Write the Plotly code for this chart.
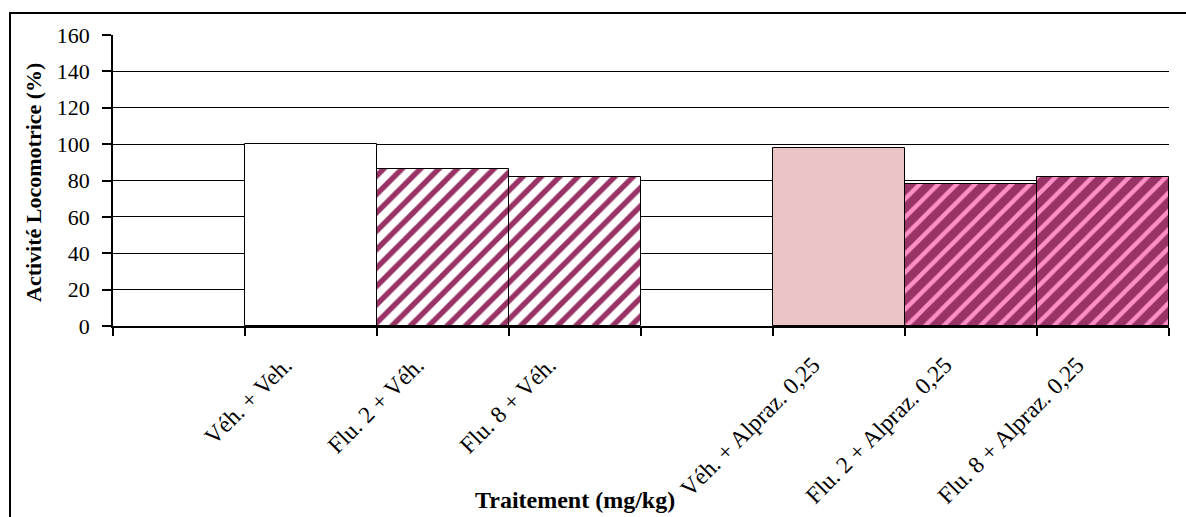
import plotly.graph_objects as go

# ---- data ----
cat_ids = ["blank_a", "c1", "c2", "c3", "blank_b", "c4", "c5", "c6"]
tick_labels = ["", "Véh. + Veh.", "Flu. 2 + Véh.", "Flu. 8 + Véh.", "",
               "Véh. + Alpraz. 0,25", "Flu. 2 + Alpraz. 0,25", "Flu. 8 + Alpraz. 0,25"]
values = [None, 100, 86.1, 82.1, None, 97.7, 77.9, 82.1]
y_ticks = [0, 20, 40, 60, 80, 100, 120, 140, 160]

# ---- styles (one per bar style group) ----
styles = [
    dict(idx=[1], bg="white", fg=None, shape="", sol=0.3),
    dict(idx=[2, 3], bg="white", fg="#993366", shape="/", sol=0.42),
    dict(idx=[5], bg="#EBC4C6", fg=None, shape="", sol=0.3),
    dict(idx=[6, 7], bg="#993366", fg="#FF8FC6", shape="/", sol=0.33),
]

FONT = "Liberation Serif, Times New Roman, serif"
W, H = 1186, 517
L, R, T, B = 113, 17, 35, 191
pw, ph = W - L - R, H - T - B

def px_x(x):
    return (x - L) / pw

def px_y(y):
    return (H - B - y) / ph

fig = go.Figure()
# invisible trace to keep all categories
fig.add_trace(go.Bar(x=cat_ids, y=[0] * len(cat_ids), marker=dict(color="rgba(0,0,0,0)",
                     line=dict(width=0)), hoverinfo="skip"))
for st in styles:
    xs = [cat_ids[i] for i in st["idx"]]
    ys = [values[i] for i in st["idx"]]
    marker = dict(color=st["bg"], line=dict(color="black", width=1))
    if st["shape"]:
        marker["pattern"] = dict(shape=st["shape"], bgcolor=st["bg"], fgcolor=st["fg"],
                                 fgopacity=1, size=13, solidity=st["sol"], fillmode="replace")
    fig.add_trace(go.Bar(x=xs, y=ys, marker=marker, hoverinfo="skip"))

fig.update_layout(
    width=W, height=H,
    margin=dict(l=L, r=R, t=T, b=B, autoexpand=False),
    paper_bgcolor="white", plot_bgcolor="white",
    barmode="overlay", bargap=0, showlegend=False,
    font=dict(family=FONT, size=22, color="black"),
    xaxis=dict(
        type="category", categoryorder="array", categoryarray=cat_ids,
        tickmode="array", tickvals=cat_ids, ticktext=tick_labels,
        tickson="boundaries", ticks="outside", ticklen=8, tickwidth=1.5, tickcolor="black",
        tickangle=-45, tickfont=dict(family=FONT, size=23.5, color="black"),
        ticklabelstandoff=14, ticklabelshift=-26, automargin=False,
        showline=True, linecolor="black", linewidth=2,
        showgrid=False, zeroline=False, range=[-0.5, 7.5],
    ),
    yaxis=dict(
        range=[0, 160], tickmode="array", tickvals=y_ticks,
        ticks="outside", ticklen=9, tickwidth=1.5, tickcolor="black",
        tickfont=dict(family=FONT, size=22, color="black"),
        ticklabelstandoff=8, automargin=False,
        showline=True, linecolor="black", linewidth=1.5,
        showgrid=True, gridcolor="black", gridwidth=1.3,
        zeroline=False,
    ),
    shapes=[dict(type="rect", xref="paper", yref="paper",
                 x0=px_x(10), x1=px_x(1200), y0=px_y(530), y1=px_y(13),
                 line=dict(color="black", width=2), fillcolor="rgba(0,0,0,0)",
                 layer="below")],
    annotations=[
        dict(text="<b>Traitement (mg/kg)</b>", xref="paper", yref="paper",
             x=px_x(575), y=px_y(500), xanchor="center", yanchor="middle",
             showarrow=False, font=dict(family=FONT, size=24, color="black")),
        dict(text="<b>Activité Locomotrice (%)</b>", xref="paper", yref="paper",
             x=px_x(33), y=px_y(183), xanchor="center", yanchor="middle",
             textangle=-90, showarrow=False,
             font=dict(family=FONT, size=22, color="black")),
    ],
)

fig.write_html("out.html")
